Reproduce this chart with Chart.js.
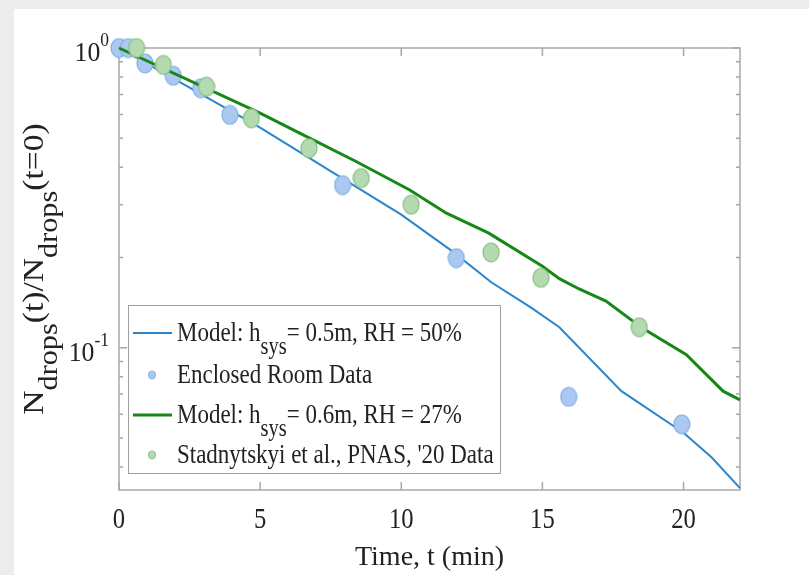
<!DOCTYPE html>
<html>
<head>
<meta charset="utf-8">
<script src="https://cdn.jsdelivr.net/npm/chart.js@4/dist/chart.umd.min.js"></script>
<style>
  html, body { margin: 0; padding: 0; background: #ececec; overflow: hidden; }
  canvas { display: block; }
</style>
</head>
<body>
<canvas id="c" width="809" height="575"></canvas>
<script>
'use strict';

// ── Data ─────────────────────────────────────────────────────────────────────
const blueModelT = [0, 2, 5, 8, 10, 11.8, 13.2, 14.6, 15.6, 17.8, 20, 21, 22];
const blueModelN = [1.0, 0.785, 0.542, 0.363, 0.278, 0.21, 0.165, 0.136, 0.117, 0.0716, 0.052, 0.043, 0.034];

const greenModelT = [0, 5, 6.4, 8.4, 10.3, 11.6, 13.1, 15.0, 15.6, 16.3, 17.25, 18.55, 20.1, 21.4, 22];
const greenModelN = [1.0, 0.606, 0.52, 0.418, 0.336, 0.281, 0.241, 0.187, 0.17, 0.157, 0.143, 0.116, 0.0947, 0.0716, 0.067];

const roomT = [0, 0.33, 0.92, 1.92, 2.9, 3.93, 7.92, 11.95, 15.93, 19.94];
const roomN = [1.0, 1.0, 0.889, 0.808, 0.734, 0.598, 0.349, 0.199, 0.0685, 0.0555];

const stadT = [0.62, 1.57, 3.1, 4.69, 6.73, 8.58, 10.35, 13.18, 14.95, 18.43];
const stadN = [1.0, 0.878, 0.743, 0.583, 0.463, 0.368, 0.300, 0.208, 0.171, 0.117];

const xTicks  = [0, 5, 10, 15, 20];
const yMajor  = [0.1, 1];
const yLabels = [['10', '-1'], ['10', '0']];
const yMinor  = [0.04, 0.05, 0.06, 0.07, 0.08, 0.09, 0.2, 0.3, 0.4, 0.5, 0.6, 0.7, 0.8, 0.9];

const legendRows = [
  { kind: 'line', color: '#2a86cc', w: 2, main: 'Model: h', sub: 'sys', rest: '= 0.5m, RH = 50%' },
  { kind: 'dot',  fill: '#abc9f0', stroke: '#7fafe5', main: 'Enclosed Room Data' },
  { kind: 'line', color: '#178717', w: 3, main: 'Model: h', sub: 'sys', rest: '= 0.6m, RH = 27%' },
  { kind: 'dot',  fill: '#b5d9b0', stroke: '#86c281', main: "Stadnytskyi et al., PNAS, '20 Data" },
];

const FONT = '"Liberation Serif", "Times New Roman", serif';
const pts = (xs, ys) => xs.map((x, i) => ({ x, y: ys[i] }));

// slightly tall ellipse marker, like the stretched original
function makeDot(fill, stroke, w, h) {
  const c = document.createElement('canvas');
  c.width = w; c.height = h;
  const g = c.getContext('2d');
  g.beginPath();
  g.ellipse(w / 2, h / 2, w / 2 - 1, h / 2 - 1, 0, 0, Math.PI * 2);
  g.fillStyle = fill; g.fill();
  g.lineWidth = 1.2; g.strokeStyle = stroke; g.stroke();
  return c;
}

// ── Text helpers ─────────────────────────────────────────────────────────────
function richWidth(ctx, parts) {
  let w = 0;
  parts.forEach(p => { ctx.font = `${p.size}px ${FONT}`; w += ctx.measureText(p.t).width; });
  return w;
}

function drawRich(ctx, parts, x, y, sx, align = 'left', rot = 0) {
  const w = richWidth(ctx, parts) * sx;
  ctx.save();
  ctx.translate(x, y);
  if (rot) ctx.rotate(rot);
  const ox = align === 'center' ? -w / 2 : align === 'right' ? -w : 0;
  ctx.translate(ox, 0);
  ctx.scale(sx, 1);
  ctx.fillStyle = '#222222';
  ctx.textBaseline = 'alphabetic';
  ctx.textAlign = 'left';
  let cx = 0;
  parts.forEach(p => {
    ctx.font = `${p.size}px ${FONT}`;
    ctx.fillText(p.t, cx, p.dy || 0);
    cx += ctx.measureText(p.t).width;
  });
  ctx.restore();
  return w;
}

// ── Plugin: frame, ticks, labels, legend ─────────────────────────────────────
const decor = {
  id: 'decor',
  beforeDraw(chart) {
    const ctx = chart.ctx;
    ctx.save();
    ctx.fillStyle = '#ececec';
    ctx.fillRect(0, 0, chart.width, chart.height);
    ctx.fillStyle = '#ffffff';
    ctx.fillRect(14, 9, chart.width - 14, chart.height - 9);
    ctx.restore();
  },
  beforeDatasetsDraw(chart) {
    const { ctx, chartArea: a, scales: { x, y } } = chart;
    ctx.save();
    ctx.strokeStyle = '#a8a8a8';
    ctx.lineWidth = 1.5;
    ctx.strokeRect(a.left, a.top, a.right - a.left, a.bottom - a.top);
    ctx.beginPath();
    xTicks.forEach(v => {
      const px = x.getPixelForValue(v);
      ctx.moveTo(px, a.bottom); ctx.lineTo(px, a.bottom - 8);
      ctx.moveTo(px, a.top);    ctx.lineTo(px, a.top + 8);
    });
    yMajor.forEach(v => {
      const py = y.getPixelForValue(v);
      ctx.moveTo(a.left, py);  ctx.lineTo(a.left + 8, py);
      ctx.moveTo(a.right, py); ctx.lineTo(a.right - 8, py);
    });
    yMinor.forEach(v => {
      const py = y.getPixelForValue(v);
      ctx.moveTo(a.left, py);  ctx.lineTo(a.left + 4, py);
      ctx.moveTo(a.right, py); ctx.lineTo(a.right - 4, py);
    });
    ctx.stroke();
    ctx.restore();
  },
  afterDraw(chart) {
    const { ctx, chartArea: a, scales: { x, y } } = chart;

    // x tick labels
    xTicks.forEach(v => {
      drawRich(ctx, [{ t: String(v), size: 30 }], x.getPixelForValue(v), 528, 0.82, 'center');
    });
    // y tick labels (10 with superscript exponent)
    yMajor.forEach((v, i) => {
      const py = y.getPixelForValue(v);
      drawRich(ctx, [{ t: yLabels[i][0], size: 28 }, { t: yLabels[i][1], size: 19, dy: -15 }],
        a.left - 10, py + 13, 0.92, 'right');
    });

    // axis titles
    drawRich(ctx, [{ t: 'Time, t (min)', size: 28 }], (a.left + a.right) / 2, 565, 1, 'center');
    drawRich(ctx, [
      { t: 'N', size: 30 }, { t: 'drops', size: 27, dy: 14 },
      { t: '(t)/N', size: 30 }, { t: 'drops', size: 27, dy: 14 },
      { t: '(t=0)', size: 30 },
    ], 43, (a.top + a.bottom) / 2, 1.12, 'center', -Math.PI / 2);

    // legend
    const lx = 128, ly = 305, lw = 372, lh = 168;
    ctx.save();
    ctx.fillStyle = '#ffffff';
    ctx.fillRect(lx, ly, lw, lh);
    ctx.strokeStyle = '#a0a0a0';
    ctx.lineWidth = 1;
    ctx.strokeRect(lx + 0.5, ly + 0.5, lw, lh);
    ctx.restore();
    const rowY = [333, 375, 415, 455];
    legendRows.forEach((r, i) => {
      const cy = rowY[i];
      ctx.save();
      if (r.kind === 'line') {
        ctx.strokeStyle = r.color; ctx.lineWidth = r.w;
        ctx.beginPath(); ctx.moveTo(133, cy); ctx.lineTo(172, cy); ctx.stroke();
      } else {
        ctx.beginPath(); ctx.ellipse(152, cy, 3.5, 4, 0, 0, Math.PI * 2);
        ctx.fillStyle = r.fill; ctx.fill();
        ctx.strokeStyle = r.stroke; ctx.lineWidth = 1; ctx.stroke();
      }
      ctx.restore();
      const parts = [{ t: r.main, size: 28 }];
      if (r.sub) parts.push({ t: r.sub, size: 25, dy: 13 }, { t: r.rest, size: 28 });
      drawRich(ctx, parts, 177, cy + 8, 0.82);
    });
  },
};

// ── Chart ────────────────────────────────────────────────────────────────────
new Chart(document.getElementById('c'), {
  type: 'scatter',
  data: {
    datasets: [
      { label: 'Model: h_sys = 0.5m, RH = 50%', data: pts(blueModelT, blueModelN), showLine: true,
        borderColor: '#2a86cc', borderWidth: 2, pointRadius: 0, order: 4, clip: false },
      { label: 'Enclosed Room Data', data: pts(roomT, roomN),
        pointStyle: makeDot('#abc9f0', '#7fafe5', 18, 21), pointRadius: 9, order: 3, clip: false },
      { label: 'Model: h_sys = 0.6m, RH = 27%', data: pts(greenModelT, greenModelN), showLine: true,
        borderColor: '#178717', borderWidth: 3, pointRadius: 0, order: 2, clip: false },
      { label: "Stadnytskyi et al., PNAS, '20 Data", data: pts(stadT, stadN),
        pointStyle: makeDot('#b5d9b0', '#86c281', 18, 21), pointRadius: 9, order: 1, clip: false },
    ],
  },
  options: {
    responsive: false,
    animation: false,
    events: [],
    layout: { padding: { left: 119, right: 69, top: 48, bottom: 85 } },
    plugins: { legend: { display: false }, tooltip: { enabled: false } },
    scales: {
      x: { type: 'linear', min: 0, max: 22, display: false },
      y: { type: 'logarithmic', min: 0.0335, max: 1, display: false },
    },
  },
  plugins: [decor],
});
</script>
</body>
</html>
